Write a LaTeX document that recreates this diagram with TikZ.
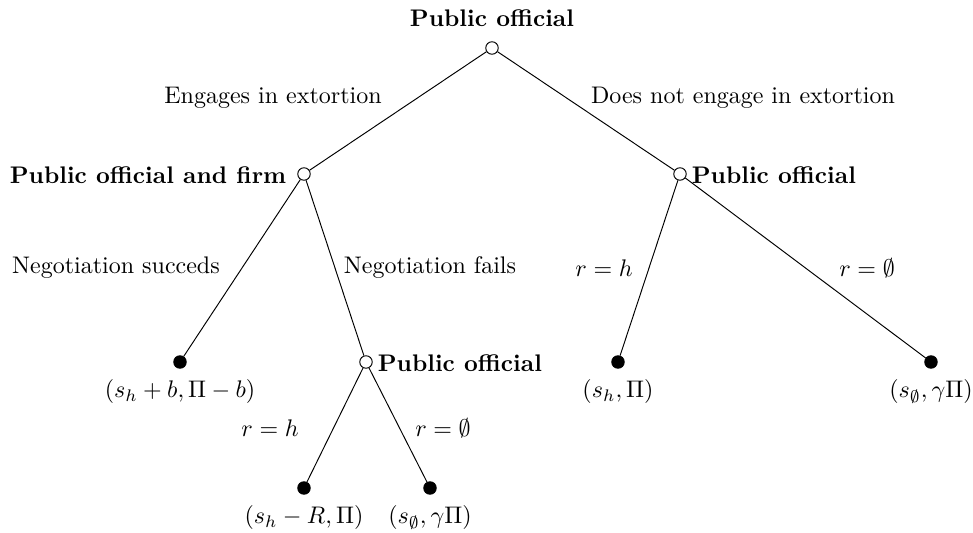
\documentclass[tikz,border=0pt]{standalone}
\usepackage{amssymb}
\begin{document}
\begin{tikzpicture}[x=0.4167pt,y=-0.4167pt,
  opennode/.style={circle,draw,fill=white,inner sep=0pt,minimum size=5.2pt},
  leafnode/.style={circle,draw,fill=black,inner sep=0pt,minimum size=5.2pt},
  playerlbl/.style={font=\bfseries,inner sep=1pt},
  edgelbl/.style={inner sep=1pt},
  edge/.style={draw,line width=0.4pt}]
\useasboundingbox (0,0) rectangle (973,533);
\node[opennode] (root) at (492,48) {};
\node[opennode] (L) at (304,174) {};
\node[opennode] (R) at (680,174) {};
\node[leafnode] (LL) at (180,362) {};
\node[opennode] (LR) at (366,362) {};
\node[leafnode] (RL) at (618,362) {};
\node[leafnode] (RR) at (931,362) {};
\node[leafnode] (LRL) at (304,488) {};
\node[leafnode] (LRR) at (430,488) {};
\draw[edge] (root) -- (L);
\draw[edge] (root) -- (R);
\draw[edge] (L) -- (LL);
\draw[edge] (L) -- (LR);
\draw[edge] (R) -- (RL);
\draw[edge] (R) -- (RR);
\draw[edge] (LR) -- (LRL);
\draw[edge] (LR) -- (LRR);
\node[playerlbl] (t0) at (492,18) {Public official};
\node[playerlbl,anchor=east] (t1) at (289,175) {Public official and firm};
\node[playerlbl,anchor=west] (t2) at (689,175) {Public official};
\node[playerlbl,anchor=west] (t3) at (375,363) {Public official};
\node[edgelbl] (e1) at (273,98) {Engages in extortion};
\node[edgelbl] (e2) at (743,98) {Does not engage in extortion};
\node[edgelbl] (e3) at (116,268) {Negotiation succeds};
\node[edgelbl] (e4) at (430,268) {Negotiation fails};
\node[edgelbl] (e5) at (604,268) {$r=h$};
\node[edgelbl] (e6) at (867,268) {$r=\emptyset$};
\node[edgelbl] (e7) at (270,428) {$r=h$};
\node[edgelbl] (e8) at (443,428) {$r=\emptyset$};
\node[edgelbl] (p1) at (180,392) {$(s_h+b,\Pi-b)$};
\node[edgelbl] (p2) at (618,392) {$(s_h,\Pi)$};
\node[edgelbl] (p3) at (931,392) {$(s_\emptyset,\gamma\Pi)$};
\node[edgelbl] (p4) at (304,518) {$(s_h-R,\Pi)$};
\node[edgelbl] (p5) at (430,518) {$(s_\emptyset,\gamma\Pi)$};
\end{tikzpicture}
\end{document}
